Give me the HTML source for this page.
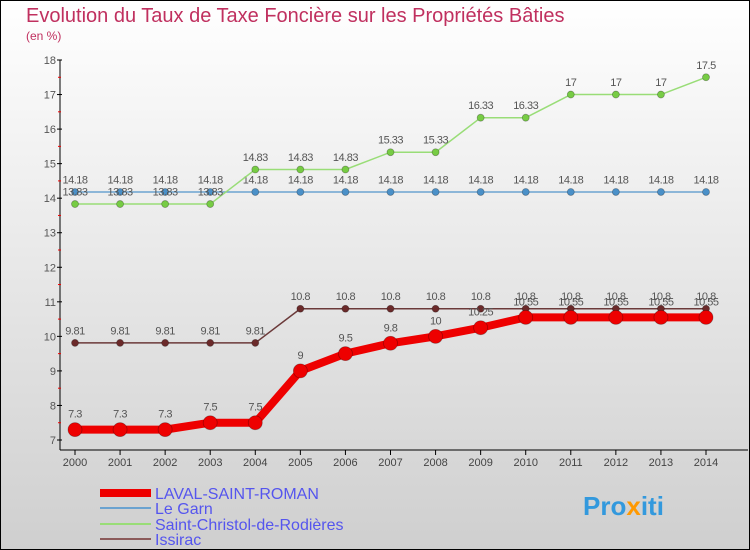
<!DOCTYPE html>
<html><head><meta charset="utf-8"><style>
body{margin:0}
svg{display:block;font-family:"Liberation Sans",sans-serif}
</style></head><body>
<svg width="750" height="550" viewBox="0 0 750 550">
<defs><linearGradient id="bg" x1="0" y1="0" x2="0" y2="1"><stop offset="0" stop-color="#ffffff"/><stop offset="1" stop-color="#cfcfcf"/></linearGradient></defs>
<rect x="0.5" y="0.5" width="749" height="549" fill="url(#bg)" stroke="#000"/>
<text x="26" y="22" font-size="20" fill="#c0305f">Evolution du Taux de Taxe Foncière sur les Propriétés Bâties</text>
<text x="26" y="40" font-size="12" fill="#c0305f">(en %)</text>
<g id="axes"></g>
<g id="series"></g>
<g id="legend">
<line x1="100" y1="493" x2="151" y2="493" stroke="#ee0000" stroke-width="8"/>
<text x="155" y="499" font-size="16" fill="#5555ee">LAVAL-SAINT-ROMAN</text>
<line x1="100" y1="508" x2="151" y2="508" stroke="#6ba3d0" stroke-width="2"/>
<text x="155" y="514" font-size="16" fill="#5555ee">Le Garn</text>
<line x1="100" y1="524" x2="151" y2="524" stroke="#99dd77" stroke-width="2"/>
<text x="155" y="530" font-size="16" fill="#5555ee">Saint-Christol-de-Rodières</text>
<line x1="100" y1="539" x2="151" y2="539" stroke="#8b5a5a" stroke-width="2"/>
<text x="155" y="545" font-size="16" fill="#5555ee">Issirac</text>
</g>
<text x="583" y="515" font-size="26" font-weight="bold" fill="#3399dd">Pro<tspan fill="#ff9900">x</tspan>iti</text>
</svg>
<script>
const years=[2000,2001,2002,2003,2004,2005,2006,2007,2008,2009,2010,2011,2012,2013,2014];
const yTicks=[7,8,9,10,11,12,13,14,15,16,17,18];
const laval=[7.3,7.3,7.3,7.5,7.5,9,9.5,9.8,10,10.25,10.55,10.55,10.55,10.55,10.55];
const leGarn=[14.18,14.18,14.18,14.18,14.18,14.18,14.18,14.18,14.18,14.18,14.18,14.18,14.18,14.18,14.18];
const saintChristol=[13.83,13.83,13.83,13.83,14.83,14.83,14.83,15.33,15.33,16.33,16.33,17,17,17,17.5];
const issirac=[9.81,9.81,9.81,9.81,9.81,10.8,10.8,10.8,10.8,10.8,10.8,10.8,10.8,10.8,10.8];
const NS="http://www.w3.org/2000/svg";
const X=i=>75+i*(706-75)/(years.length-1);
const Y=v=>440-(v-7)*(380/11);
function mk(tag,attrs,parent){const e=document.createElementNS(NS,tag);for(const k in attrs)e.setAttribute(k,attrs[k]);parent.appendChild(e);return e;}
const ax=document.getElementById('axes');
const yAxis=mk('line',{x1:60,y1:60,x2:60,y2:450,stroke:'#000'},ax);


const xAxis=mk('line',{x1:60,y1:450,x2:748,y2:450,stroke:'#000'},ax);


yTicks.forEach((t,i)=>{
  mk('line',{x1:57,y1:Y(t),x2:62,y2:Y(t),stroke:'#000'},ax);
  if(i<yTicks.length-1)mk('line',{x1:58,y1:Y(t+0.5),x2:61,y2:Y(t+0.5),stroke:'#e00'},ax);
  const tx=mk('text',{x:56,y:Y(t)+4,'font-size':11,fill:'#555','text-anchor':'end'},ax);tx.textContent=t;
  
  
});
years.forEach((y,i)=>{
  mk('line',{x1:X(i),y1:450,x2:X(i),y2:455,stroke:'#000'},ax);
  const tx=mk('text',{x:X(i),y:466,'font-size':11,fill:'#444','text-anchor':'middle'},ax);tx.textContent=y;
  
  
});
const sg=document.getElementById('series');
function series(data,name,color,w,r,dot){
  const g=mk('g',{},sg);
  
  
  const p=mk('polyline',{points:data.map((v,i)=>X(i)+','+Y(v)).join(' '),fill:'none',stroke:color,'stroke-width':w,'stroke-linejoin':'round'},g);
  
  
  data.forEach((v,i)=>{
    const c=mk('circle',{cx:X(i),cy:Y(v),r:r,fill:dot,stroke:'rgba(0,0,0,0.3)','stroke-width':0.8},g);
    
    
    const t=mk('text',{x:X(i),y:Y(v)-(r+5),'font-size':11,fill:'#555','text-anchor':'middle','letter-spacing':'-0.5'},g);
    t.textContent=v;
    
    
  });
}
series(leGarn,'le-garn','#6ba3d0',1.5,3.5,'#4a90c8');
series(saintChristol,'saint-christol','#99dd77',1.5,3.5,'#77cc44');
series(issirac,'issirac','#6b3a3a',1.5,3.5,'#6b2a2a');
series(laval,'laval-saint-roman','#ee0000',8,7,'#ee0000');
</script>
</body></html>
